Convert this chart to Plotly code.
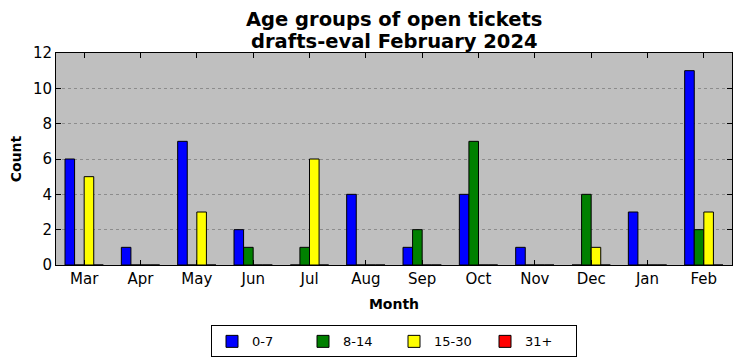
import plotly.graph_objects as go

months = ["Mar", "Apr", "May", "Jun", "Jul", "Aug", "Sep", "Oct", "Nov", "Dec", "Jan", "Feb"]
age_0_7 = [6, 1, 7, 2, 0, 4, 1, 4, 1, 0, 3, 11]
age_8_14 = [0, 0, 0, 1, 1, 0, 2, 7, 0, 4, 0, 2]
age_15_30 = [5, 0, 3, 0, 6, 0, 0, 0, 0, 1, 0, 3]
age_31p = [0, 0, 0, 0, 0, 0, 0, 0, 0, 0, 0, 0]
title_lines = ["Age groups of open tickets", "drafts-eval February 2024"]

series = [("0-7", age_0_7, "#0000ff"), ("8-14", age_8_14, "#008000"),
          ("15-30", age_15_30, "#ffff00"), ("31+", age_31p, "#ff0000")]

fig = go.Figure()
for name, vals, col in series:
    fig.add_trace(go.Bar(x=months, y=vals, name=name, marker=dict(color=col, line=dict(color="black", width=1))))

fnt = "DejaVu Sans"
for txt, yy in zip(title_lines, [1.160, 1.0566]):
    fig.add_annotation(text="<b>" + txt + "</b>", xref="paper", yref="paper", x=0.5, y=yy,
                       xanchor="center", yanchor="middle", showarrow=False,
                       font=dict(family=fnt, size=19.5, color="black"))

fig.update_layout(
    width=733, height=353,
    margin=dict(l=48, r=9, t=45, b=96, autoexpand=False),
    paper_bgcolor="white", plot_bgcolor="#bfbfbf",
    barmode="group", bargap=0.32, bargroupgap=0,
    font=dict(family=fnt, size=15, color="black"),
    legend=dict(orientation="h", x=0.5, xanchor="center", y=-0.285, yanchor="top",
                bordercolor="black", borderwidth=1, bgcolor="white",
                font=dict(family=fnt, size=13), entrywidth=46, entrywidthmode="pixels",
                tracegroupgap=0),
    showlegend=True,
)
fig.update_xaxes(range=[-0.5, 11.5], showline=True, linecolor="black", linewidth=1, mirror="ticks",
                 ticks="inside", ticklen=5, tickcolor="black", showgrid=False, automargin=False,
                 title=dict(text="<b>Month</b>", font=dict(family=fnt, size=14), standoff=12),
                 tickfont=dict(size=15))
fig.update_yaxes(range=[0, 12], dtick=2, showline=True, linecolor="black", linewidth=1, mirror="ticks",
                 ticks="inside", ticklen=5, tickcolor="black", showgrid=True, gridcolor="#8c8c8c",
                 griddash="dot", gridwidth=1, zeroline=False, automargin=False,
                 title=dict(text="<b>Count</b>", font=dict(family=fnt, size=14), standoff=8),
                 tickfont=dict(size=15))
fig.write_html("out.html")
